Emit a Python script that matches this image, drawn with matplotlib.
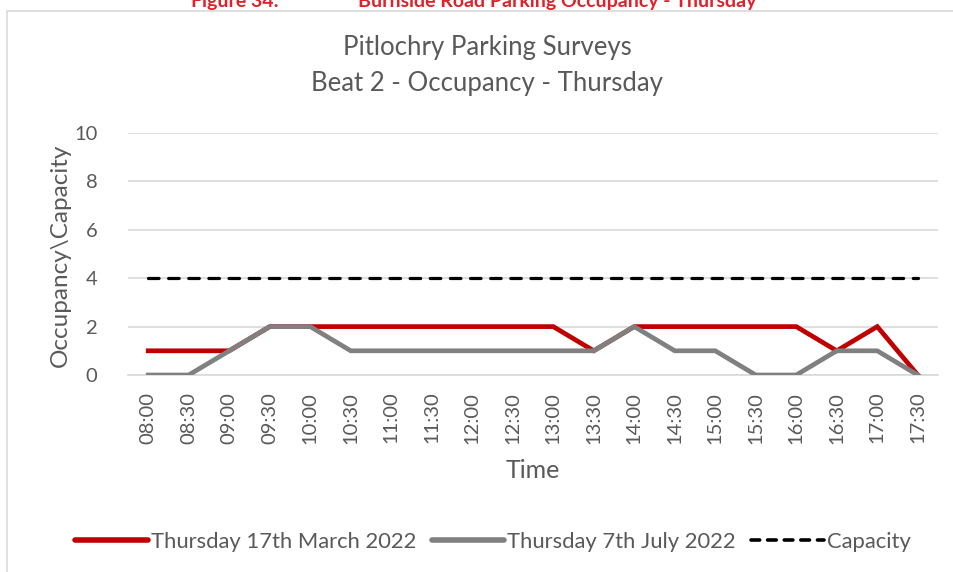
import numpy as np
import matplotlib.pyplot as plt
from matplotlib.patches import Rectangle
from matplotlib.lines import Line2D

times = ["08:00", "08:30", "09:00", "09:30", "10:00", "10:30", "11:00", "11:30",
         "12:00", "12:30", "13:00", "13:30", "14:00", "14:30", "15:00", "15:30",
         "16:00", "16:30", "17:00", "17:30"]
march = [1, 1, 1, 2, 2, 2, 2, 2, 2, 2, 2, 1, 2, 2, 2, 2, 2, 1, 2, 0]
july = [0, 0, 1, 2, 2, 1, 1, 1, 1, 1, 1, 1, 2, 1, 1, 0, 0, 1, 1, 0]
capacity = [4] * len(times)

plt.rcParams['font.family'] = ['Lato', 'DejaVu Sans']
txt = '#595959'
dash = (0, (3.3, 3.0))

fig = plt.figure(figsize=(9.54, 5.72), dpi=100)

# outer chart frame (top and left edges show)
fig.patches.append(Rectangle((7 / 954, -0.1), 1.2, 1 - 11 / 572 + 0.1,
                             transform=fig.transFigure, fill=False,
                             edgecolor='#d9d9d9', lw=1.2))

# caption, mostly above the top edge
fig.text(235 / 954, 1 - 7 / 572, "Figure 34:", color='#e0202a', fontsize=14,
         fontweight='bold', ha='center', va='baseline')
fig.text(557 / 954, 1 - 7 / 572, "Burnside Road Parking Occupancy - Thursday",
         color='#e0202a', fontsize=14, fontweight='bold', ha='center', va='baseline')

ax = fig.add_axes([128 / 954, 1 - 375 / 572, 810 / 954, 242 / 572])
x = np.arange(len(times))

ax.plot(x, march, color='#c00000', lw=3.4, solid_joinstyle='miter', zorder=3)
ax.plot(x, july, color='#808080', lw=3.4, solid_joinstyle='miter', zorder=4)
ax.plot(x, capacity, color='black', lw=2.3, ls=dash, dash_capstyle='round', zorder=5)

ax.set_xlim(-0.5, len(times) - 0.5)
ax.set_ylim(0, 10)
ax.set_yticks(range(0, 11, 2))
ax.set_xticks(x)
ax.set_xticklabels(times, rotation=90)
ax.grid(axis='y', color='#d9d9d9', lw=1.2)
ax.set_axisbelow(True)
for s in ['top', 'right', 'left']:
    ax.spines[s].set_visible(False)
ax.spines['bottom'].set_color('#d9d9d9')
ax.spines['bottom'].set_linewidth(1.2)
ax.tick_params(length=0, labelsize=14.5, colors=txt, pad=12)
ax.tick_params(axis='y', pad=22)

fig.text(60 / 954, 1 - 255 / 572, "Occupancy\\Capacity", fontsize=17.5,
         color=txt, ha='center', va='center', rotation=90)
fig.text(533 / 954, 1 - 470 / 572, "Time", fontsize=18, color=txt,
         ha='center', va='center')

fig.text(487 / 954, 1 - 48 / 572, "Pitlochry Parking Surveys", fontsize=18.5,
         color=txt, ha='center', va='center')
fig.text(487 / 954, 1 - 83 / 572, "Beat 2 - Occupancy - Thursday", fontsize=18.5,
         color=txt, ha='center', va='center')

handles = [Line2D([], [], color='#c00000', lw=4, solid_capstyle='round'),
           Line2D([], [], color='#808080', lw=4, solid_capstyle='round'),
           Line2D([], [], color='black', lw=2.6, ls=(0, (2.4, 2.2)),
                  dash_capstyle='round')]
labels = ["Thursday 17th March 2022", "Thursday 7th July 2022", "Capacity"]
fig.legend(handles, labels, loc='center', bbox_to_anchor=(493 / 954, 1 - 542 / 572),
           ncol=3, frameon=False, fontsize=15.8, labelcolor=txt, handlelength=3.3,
           handletextpad=0.15, columnspacing=0.7)

fig.savefig("out.png", dpi=100)
